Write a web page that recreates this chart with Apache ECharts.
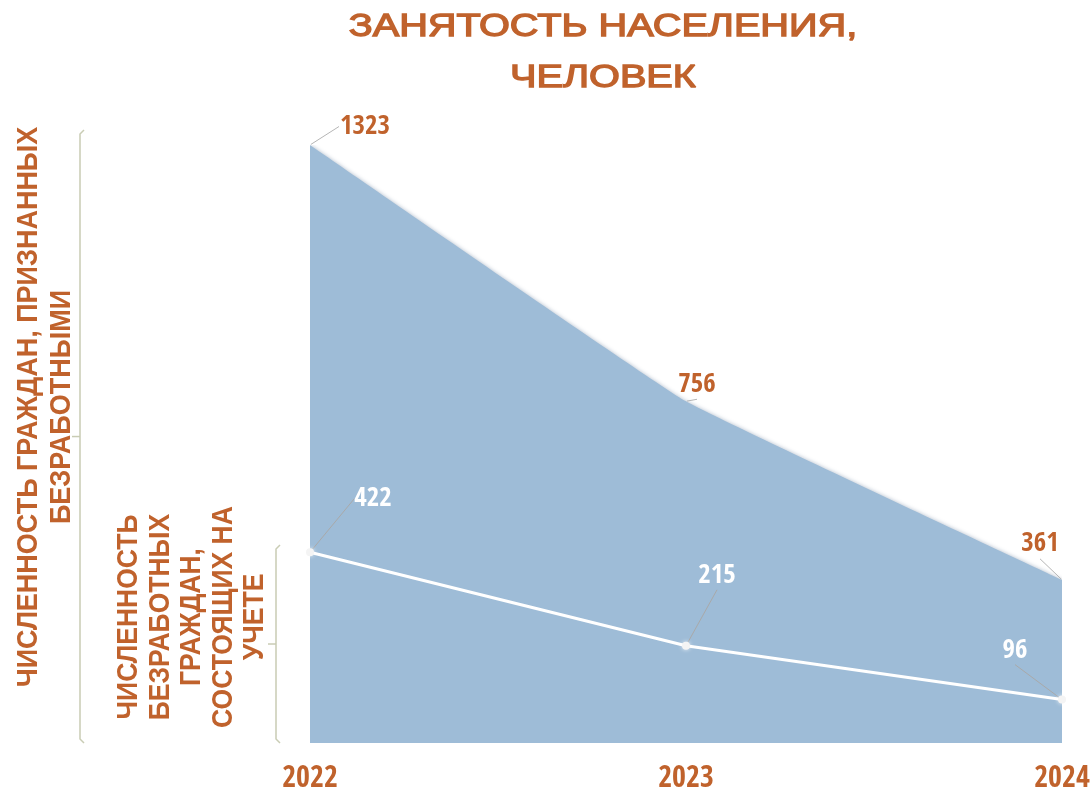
<!DOCTYPE html>
<html>
<head>
<meta charset="utf-8">
<script src="https://cdn.jsdelivr.net/npm/echarts@6/dist/echarts.min.js"></script>
<style>html,body{margin:0;padding:0;background:#fff}#c{width:1091px;height:796px}</style>
</head>
<body>
<div id="c"></div>
<script>
var years = ['2022', '2023', '2024'];
var registeredUnemployed = [1323, 756, 361];
var unemployedOnRecord = [422, 215, 96];
var titleText = 'ЗАНЯТОСТЬ НАСЕЛЕНИЯ,\nЧЕЛОВЕК';
var bigLabel = 'ЧИСЛЕННОСТЬ ГРАЖДАН, ПРИЗНАННЫХ\nБЕЗРАБОТНЫМИ';
var smallLabel = 'ЧИСЛЕННОСТЬ\nБЕЗРАБОТНЫХ\nГРАЖДАН,\nСОСТОЯЩИХ НА\nУЧЕТЕ';
var bigBracketRange = [0, 1356];
var smallBracketRange = [0, 438];

var orange = '#c0622c';
var bracketColor = '#c9ccb4';
var numFont = '"Open Sans Condensed", "Roboto Condensed", "DejaVu Sans Condensed", sans-serif';
var textFont = '"Liberation Sans", Arial, sans-serif';

var areaOffsets = [[55, 1], [11, 3], [-22, -16]];
var lineOffsets = [[63, -31], [31, -47], [-47, -26]];

var chart = echarts.init(document.getElementById('c'));
chart.setOption({
  animation: false,
  grid: { left: 310, right: 29, top: 145, bottom: 53, outerBoundsMode: 'none', containLabel: false },
  xAxis: {
    type: 'category',
    data: years,
    boundaryGap: false,
    axisLine: { show: false },
    axisTick: { show: false },
    axisLabel: {
      margin: 21,
      color: orange,
      fontFamily: numFont,
      fontWeight: 'bold',
      fontSize: 30
    }
  },
  yAxis: {
    type: 'value',
    min: 0,
    max: 1323,
    show: false,
    splitLine: { show: false }
  },
  series: [
    {
      name: 'Численность граждан, признанных безработными',
      type: 'line',
      data: registeredUnemployed,
      smooth: 0.08,
      symbol: 'circle',
      symbolSize: 2,
      showSymbol: true,
      itemStyle: { color: 'rgba(0,0,0,0)' },
      lineStyle: { width: 0 },
      areaStyle: { color: '#9ebcd7', opacity: 1, shadowColor: 'rgba(50,80,120,0.4)', shadowBlur: 4 },
      label: {
        show: true,
        color: orange,
        fontFamily: numFont,
        fontWeight: 'bold',
        fontSize: 27,
        textBorderColor: 'rgba(255,255,255,0.9)',
        textBorderWidth: 2
      },
      labelLine: { show: true, lineStyle: { color: '#b5b5b5', width: 1 } },
      labelLayout: function (p) {
        var o = areaOffsets[p.dataIndex];
        return { dx: o[0], dy: o[1] };
      },
      z: 1
    },
    {
      name: 'Численность безработных граждан, состоящих на учете',
      type: 'line',
      data: unemployedOnRecord,
      symbol: 'circle',
      symbolSize: 8,
      itemStyle: { color: '#f4f4f4', shadowColor: 'rgba(255,255,255,0.8)', shadowBlur: 4 },
      lineStyle: { color: '#ffffff', width: 3 },
      label: {
        show: true,
        color: '#ffffff',
        fontFamily: numFont,
        fontWeight: 'bold',
        fontSize: 27
      },
      labelLine: { show: true, lineStyle: { color: '#a9a9a9', width: 1 } },
      labelLayout: function (p) {
        var o = lineOffsets[p.dataIndex];
        return { dx: o[0], dy: o[1] };
      },
      z: 3
    }
  ]
});

function bracket(x, range) {
  var yTop = chart.convertToPixel({ yAxisIndex: 0 }, range[1]);
  var yBot = chart.convertToPixel({ yAxisIndex: 0 }, range[0]);
  var yMid = (yTop + yBot) / 2;
  return [
    { type: 'polyline', silent: true, shape: { points: [[x + 4, yTop], [x, yTop + 4], [x, yBot - 4], [x + 4, yBot]] }, style: { stroke: bracketColor, lineWidth: 1.5, fill: null } },
    { type: 'line', silent: true, shape: { x1: x, y1: yMid, x2: x - 8, y2: yMid }, style: { stroke: bracketColor, lineWidth: 1.5 } }
  ];
}

var g = [];
g.push({
  type: 'text', silent: true, x: 603, y: 2, scaleX: 1.28,
  style: { text: titleText, fill: orange, font: '31px ' + textFont, textAlign: 'center', textVerticalAlign: 'top', lineHeight: 51, stroke: orange, lineWidth: 1.3 }
});
g = g.concat(bracket(80, bigBracketRange));
g = g.concat(bracket(276, smallBracketRange));
g.push({
  type: 'text', silent: true, x: 45, y: 407, rotation: Math.PI / 2, scaleY: 1.1,
  style: { text: bigLabel, fill: orange, font: 'bold 27px ' + textFont, textAlign: 'center', textVerticalAlign: 'middle', lineHeight: 30 }
});
g.push({
  type: 'text', silent: true, x: 192, y: 617, rotation: Math.PI / 2, scaleY: 1.1,
  style: { text: smallLabel, fill: orange, font: 'bold 26.5px ' + textFont, textAlign: 'center', textVerticalAlign: 'middle', lineHeight: 28.6 }
});
chart.setOption({ graphic: g });
</script>
</body>
</html>
